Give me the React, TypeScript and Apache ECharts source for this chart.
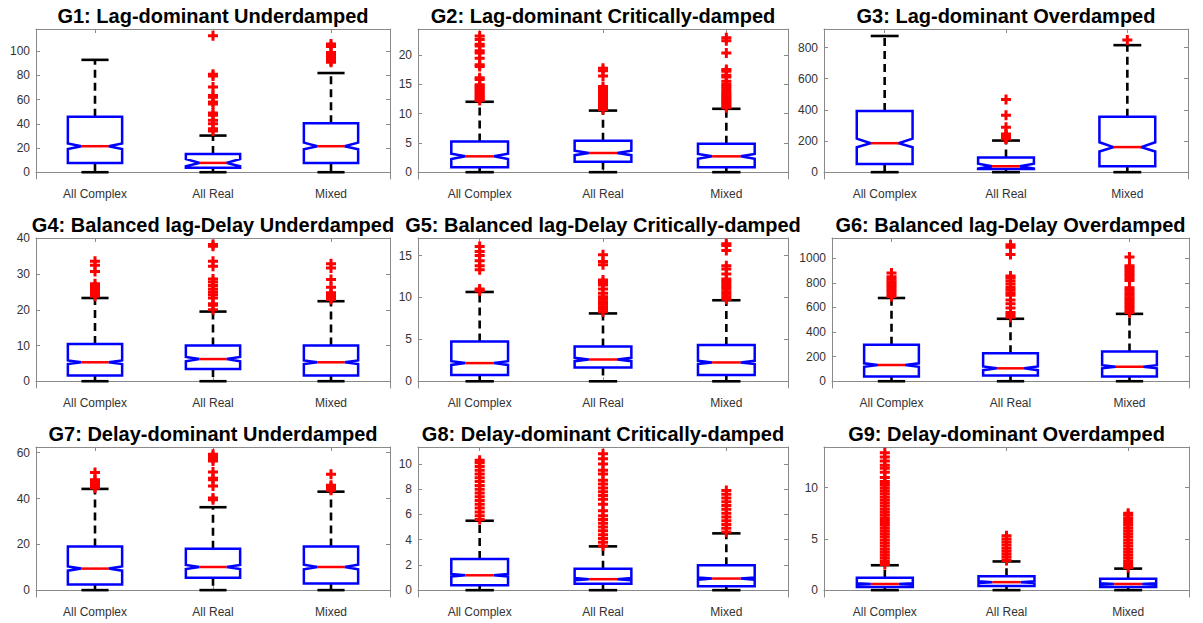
import React, { useEffect, useRef } from "react";
import * as echarts from "echarts";

// ---------- data ----------
const categories = ["All Complex", "All Real", "Mixed"];
const titles = [
  "G1: Lag-dominant Underdamped",
  "G2: Lag-dominant Critically-damped",
  "G3: Lag-dominant Overdamped",
  "G4: Balanced lag-Delay Underdamped",
  "G5: Balanced lag-Delay Critically-damped",
  "G6: Balanced lag-Delay Overdamped",
  "G7: Delay-dominant Underdamped",
  "G8: Delay-dominant Critically-damped",
  "G9: Delay-dominant Overdamped",
];

// each row: [lowerWhisker, q1, median, q3, upperWhisker, notchLow, notchHigh]
const g1Stats = [[0, 7.7, 21.5, 45.9, 92.9, 19.1, 23.8], [0, 3.6, 7.7, 15.0, 30.3, 4.9, 10.9], [0, 7.7, 21.5, 40.4, 82.0, 19.0, 24.5]];
const g2Stats = [[0, 0.85, 2.7, 5.24, 12.0, 2.25, 3.15], [0, 1.8, 3.27, 5.35, 10.5, 2.9, 3.65], [0, 0.85, 2.7, 4.85, 10.8, 2.3, 3.1]];
const g3Stats = [[0, 53, 186, 392, 874, 160, 215], [0, 21, 38, 95, 203, 23, 55], [0, 38, 161, 356, 815, 133, 192]];
const g4Stats = [[0, 1.6, 5.3, 10.4, 23.3, 4.8, 5.8], [0, 3.4, 6.2, 10.0, 19.5, 5.6, 6.8], [0, 1.6, 5.3, 10.0, 22.4, 4.8, 5.8]];
const g5Stats = [[0, 0.75, 2.17, 4.74, 10.66, 1.95, 2.4], [0, 1.66, 2.6, 4.15, 8.1, 2.4, 2.8], [0, 0.75, 2.25, 4.34, 9.67, 2.05, 2.45]];
const g6Stats = [[0, 38, 132, 296, 677, 118, 146], [0, 46, 105, 228, 508, 90, 120], [0, 38, 118, 242, 548, 105, 131]];
const g7Stats = [[0, 2.5, 9.4, 19.1, 44.2, 8.5, 10.3], [0, 5.4, 10.1, 18.1, 36.2, 9.2, 11.0], [0, 2.9, 10.1, 19.1, 43.0, 9.1, 11.1]];
const g8Stats = [[0, 0.4, 1.18, 2.47, 5.5, 1.08, 1.28], [0, 0.5, 0.87, 1.7, 3.47, 0.78, 0.96], [0, 0.32, 0.92, 1.97, 4.5, 0.83, 1.01]];
const g9Stats = [[0, 0.3, 0.6, 1.2, 2.43, 0.55, 0.66], [0, 0.4, 0.78, 1.36, 2.8, 0.7, 0.86], [0, 0.3, 0.6, 1.1, 2.1, 0.55, 0.66]];

// outliers per category: [All Complex, All Real, Mixed]
const g1Outliers = [
  [],
  [112.8, 80.9, 79.5, 70.5, 63.5, 62.0, 58.0, 56.5, 49.0, 47.0, 43.0, 40.0, 36.0, 34.0],
  [106, 104, 99, 97, 96, 95, 94, 93, 92, 91],
];
const g2Outliers = [
  [12.2, 12.5, 12.8, 13.1, 13.4, 13.7, 14.0, 14.3, 14.6, 14.9, 15.8, 16.1, 18.0, 18.3, 19.4, 20.3, 20.7, 21.5, 21.8, 22.6, 23.2],
  [10.7, 11.0, 11.3, 11.6, 11.9, 12.2, 12.5, 12.8, 13.1, 13.4, 13.7, 14.1, 14.6, 16.4, 17.3, 17.7],
  [11.0, 11.3, 11.6, 11.9, 12.2, 12.5, 12.8, 13.1, 13.4, 13.8, 14.2, 14.6, 15.0, 15.5, 16.2, 16.5, 17.2, 17.5, 20.3, 22.4, 22.9],
];
const g3Outliers = [[], [213, 219, 226, 232, 238, 245, 289, 366, 466], [848]];
const g4Outliers = [
  [23.8, 24.3, 24.8, 25.3, 25.8, 26.5, 27.3, 30.7, 32.5, 33.6],
  [20.0, 21.3, 21.7, 23.3, 24.2, 25.0, 25.8, 26.8, 27.8, 28.6, 32.2, 33.6, 37.8, 38.3],
  [22.9, 23.3, 23.8, 24.3, 24.8, 26.3, 28.5, 31.7, 32.9],
];
const g5Outliers = [
  [10.8, 11.0, 13.3, 13.8, 14.4, 15.0, 15.5, 16.1],
  [8.3, 8.6, 8.9, 9.2, 9.5, 9.8, 10.1, 10.5, 11.0, 11.5, 11.8, 12.1, 13.9, 14.3, 15.1],
  [9.8, 10.1, 10.4, 10.7, 11.0, 11.3, 11.6, 11.9, 12.2, 12.8, 13.4, 13.8, 15.6, 16.2, 16.4],
];
const g6Outliers = [
  [690, 710, 730, 750, 770, 790, 810, 830, 850, 880],
  [520, 540, 560, 595, 630, 660, 700, 720, 745, 765, 790, 815, 840, 855, 1030, 1090, 1110],
  [560, 580, 600, 620, 640, 660, 680, 700, 720, 740, 760, 820, 840, 860, 880, 900, 920, 940, 1010],
];
const g7Outliers = [
  [44.6, 45.3, 46.0, 46.7, 47.4, 48.2, 51.4],
  [39.5, 40.2, 45.5, 48.2, 48.8, 51.6, 56.4, 57.4, 58.4, 59.3],
  [43.6, 44.3, 45.0, 45.8, 50.6],
];
const g8Outliers = [
  [5.6, 5.9, 6.2, 6.5, 6.8, 7.1, 7.4, 7.7, 8.0, 8.3, 8.6, 8.9, 9.2, 9.5, 9.8, 10.1, 10.3],
  [3.5, 3.8, 4.1, 4.4, 4.7, 5.0, 5.3, 5.6, 5.9, 6.3, 6.8, 7.2, 7.5, 7.8, 8.1, 8.4, 8.7, 9.2, 9.5, 10.0, 10.4, 10.8],
  [4.6, 4.9, 5.2, 5.5, 5.8, 6.1, 6.4, 6.7, 7.0, 7.3, 7.6, 7.9],
];
const g9Outliers = [
  [2.5, 2.8, 3.1, 3.4, 3.7, 4.0, 4.3, 4.6, 4.9, 5.2, 5.5, 5.8, 6.1, 6.4, 6.7, 7.0, 7.3, 7.6, 7.9, 8.2, 8.5, 8.8, 9.1, 9.4, 9.7, 10.0, 10.3, 10.6, 11.0, 11.5, 11.9, 12.2, 12.6, 13.0, 13.4],
  [2.9, 3.2, 3.5, 3.8, 4.1, 4.4, 4.7, 5.0, 5.3],
  [2.2, 2.5, 2.8, 3.1, 3.4, 3.7, 4.0, 4.3, 4.6, 4.9, 5.2, 5.5, 5.8, 6.1, 6.4, 6.7, 7.0, 7.3, 7.5],
];

// y-axis limits and tick labels
const yMins = [-5.6, -1.16, -43.75, -1.9, -0.8, -55, -3, -0.54, -0.67];
const yMaxs = [118.4, 24.4, 918.75, 40.1, 17.1, 1165, 62.5, 11.34, 13.97];
const yTicks = [
  [0, 20, 40, 60, 80, 100],
  [0, 5, 10, 15, 20],
  [0, 200, 400, 600, 800],
  [0, 10, 20, 30, 40],
  [0, 5, 10, 15],
  [0, 200, 400, 600, 800, 1000],
  [0, 20, 40, 60],
  [0, 2, 4, 6, 8, 10],
  [0, 5, 10],
];

const allStats = [g1Stats, g2Stats, g3Stats, g4Stats, g5Stats, g6Stats, g7Stats, g8Stats, g9Stats];
const allOutliers = [g1Outliers, g2Outliers, g3Outliers, g4Outliers, g5Outliers, g6Outliers, g7Outliers, g8Outliers, g9Outliers];

// ---------- layout ----------
const W = 1203;
const plotLefts = [36, 418, 824, 36, 418, 832, 36, 418, 824];
const plotRights = [390, 788, 1188, 390, 788, 1189, 390, 788, 1189];
const plotTops = [29, 238, 447];
const plotHeight = 150;
const titleYs = [15.5, 225, 434];

const FONT = "'Liberation Sans', Arial, Helvetica, sans-serif";
const AXIS_COLOR = "#8a8a8a";
const PLUS = "path://M3.5,0H6.5V3.5H10V6.5H6.5V10H3.5V6.5H0V3.5H3.5Z";

function renderBox(params: any, api: any) {
  const idx = api.value(0);
  const low = api.value(1);
  const q1 = api.value(2);
  const med = api.value(3);
  const q3 = api.value(4);
  const high = api.value(5);
  const nlo = api.value(6);
  const nhi = api.value(7);
  const bw = api.size([1, 0])[0];
  const w = bw * 0.23;
  const cx = api.coord([idx, med])[0];
  const Y = (v: number) => api.coord([idx, v])[1];
  const yl = Y(low), y1 = Y(q1), ym = Y(med), y3 = Y(q3), yh = Y(high), yn1 = Y(nlo), yn2 = Y(nhi);
  const dash = { stroke: "#000", lineWidth: 2.6, lineDash: [8, 5], fill: "none" };
  const solid = { stroke: "#000", lineWidth: 2.6, fill: "none" };
  return {
    type: "group",
    children: [
      { type: "line", shape: { x1: cx, y1: y3, x2: cx, y2: yh }, style: dash },
      { type: "line", shape: { x1: cx, y1: y1, x2: cx, y2: yl }, style: dash },
      { type: "line", shape: { x1: cx - w / 2, y1: yh, x2: cx + w / 2, y2: yh }, style: solid },
      { type: "line", shape: { x1: cx - w / 2, y1: yl, x2: cx + w / 2, y2: yl }, style: solid },
      {
        type: "polygon",
        shape: {
          points: [
            [cx - w, y1], [cx - w, yn1], [cx - w / 2, ym], [cx - w, yn2], [cx - w, y3],
            [cx + w, y3], [cx + w, yn2], [cx + w / 2, ym], [cx + w, yn1], [cx + w, y1],
          ],
        },
        style: { fill: "#fff", stroke: "#0000ff", lineWidth: 2.5 },
      },
      { type: "line", shape: { x1: cx - w / 2, y1: ym, x2: cx + w / 2, y2: ym }, style: { stroke: "#ff0000", lineWidth: 2.5 } },
    ],
  };
}

function buildOption() {
  const grid: any[] = [];
  const xAxis: any[] = [];
  const yAxis: any[] = [];
  const series: any[] = [];
  const graphic: any[] = [];

  for (let i = 0; i < 9; i++) {
    const row = Math.floor(i / 3);
    grid.push({
      left: plotLefts[i],
      top: plotTops[row],
      width: plotRights[i] - plotLefts[i],
      height: plotHeight,
      containLabel: false,
    });
    const lineStyle = { color: AXIS_COLOR, width: 1 };
    xAxis.push({
      type: "category",
      gridIndex: i,
      data: categories,
      position: "bottom",
      boundaryGap: true,
      axisLine: { show: true, lineStyle },
      axisTick: { show: true, inside: true, length: 4, alignWithLabel: true, lineStyle },
      axisLabel: { show: true, color: "#333", fontSize: 12, fontFamily: FONT, margin: 9 },
      splitLine: { show: false },
    });
    xAxis.push({
      type: "category",
      gridIndex: i,
      data: categories,
      position: "top",
      boundaryGap: true,
      axisLine: { show: true, onZero: false, lineStyle },
      axisTick: { show: true, inside: true, length: 4, alignWithLabel: true, lineStyle },
      axisLabel: { show: false },
      splitLine: { show: false },
    });
    yAxis.push({
      type: "value",
      gridIndex: i,
      position: "left",
      min: yMins[i],
      max: yMaxs[i],
      axisLine: { show: true, onZero: false, lineStyle },
      axisTick: { show: true, inside: true, length: 4, lineStyle, customValues: yTicks[i] },
      axisLabel: {
        show: true,
        color: "#333",
        fontSize: 12,
        fontFamily: FONT,
        margin: 6,
        customValues: yTicks[i],
        formatter: (v: number) => String(v),
      },
      splitLine: { show: false },
    });
    yAxis.push({
      type: "value",
      gridIndex: i,
      position: "right",
      min: yMins[i],
      max: yMaxs[i],
      axisLine: { show: true, onZero: false, lineStyle },
      axisTick: { show: true, inside: true, length: 4, lineStyle, customValues: yTicks[i] },
      axisLabel: { show: false },
      splitLine: { show: false },
    });

    series.push({
      type: "custom",
      xAxisIndex: 2 * i,
      yAxisIndex: 2 * i,
      renderItem: renderBox,
      encode: { x: 0, y: [1, 2, 3, 4, 5] },
      data: allStats[i].map((s, k) => [k, ...s]),
      z: 2,
      silent: true,
    });
    const pts: number[][] = [];
    allOutliers[i].forEach((list, k) => list.forEach((v) => pts.push([k, v])));
    series.push({
      type: "scatter",
      xAxisIndex: 2 * i,
      yAxisIndex: 2 * i,
      symbol: PLUS,
      symbolSize: 10,
      itemStyle: { color: "#ff0000", opacity: 1 },
      data: pts,
      z: 5,
      silent: true,
    });

    graphic.push({
      type: "text",
      x: (plotLefts[i] + plotRights[i]) / 2,
      y: titleYs[row],
      style: {
        text: titles[i],
        fontSize: 20,
        fontWeight: "bold",
        fontFamily: FONT,
        fill: "#000",
        align: "center",
        verticalAlign: "middle",
      },
      z: 10,
    });
  }

  return {
    animation: false,
    backgroundColor: "#ffffff",
    grid,
    xAxis,
    yAxis,
    series,
    graphic,
  };
}

export default function App() {
  const ref = useRef<HTMLDivElement>(null);
  useEffect(() => {
    if (!ref.current) return;
    const chart = echarts.init(ref.current, undefined, { renderer: "svg" });
    chart.setOption(buildOption());
    return () => chart.dispose();
  }, []);
  return (
    <div
      ref={ref}
      style={{ position: "fixed", left: 0, top: 0, width: W, height: 623, background: "#fff" }}
    />
  );
}
